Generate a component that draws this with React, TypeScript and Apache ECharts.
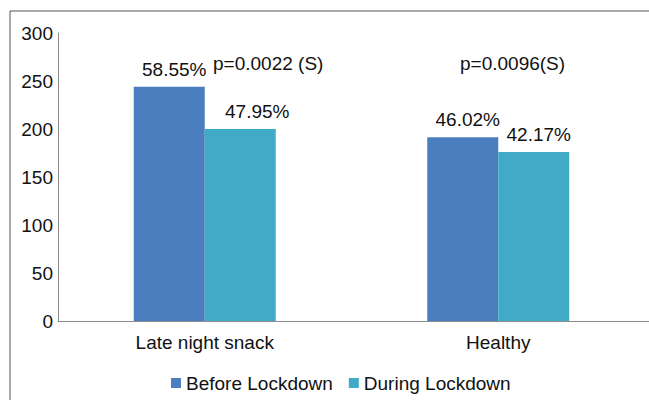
import React, { useEffect, useRef } from "react";
import * as echarts from "echarts";

const categories = ["Late night snack", "Healthy"];
const seriesNames = ["Before Lockdown", "During Lockdown"];
const beforeValues = [244, 191.5];
const duringValues = [200, 176];
const beforeLabels = ["58.55%", "46.02%"];
const duringLabels = ["47.95%", "42.17%"];
const pValueLabels = ["p=0.0022 (S)", "p=0.0096(S)"];
const yTicks = { min: 0, max: 300, interval: 50 };

const FONT = "'Liberation Sans', Arial, sans-serif";
const FS = 19;

export default function App() {
  const ref = useRef<HTMLDivElement>(null);
  useEffect(() => {
    if (!ref.current) return;
    const chart = echarts.init(ref.current, null, { renderer: "svg" });
    const beforeOffsets = [[5, 0], [5, 0]];
    const duringOffsets = [[17, 0], [5, 0]];
    const mk = (vals: number[], labels: string[], offs: number[][]) =>
      vals.map((v, i) => ({
        value: v,
        label: { formatter: labels[i], offset: offs[i] },
      }));
    chart.setOption({
      animation: false,
      textStyle: { fontFamily: FONT },
      grid: { left: 58, right: 4, top: 33, bottom: 79 },
      legend: {
        data: seriesNames,
        left: 171,
        top: 373,
        padding: 0,
        itemWidth: 10,
        itemHeight: 10,
        itemGap: 16,
        icon: "rect",
        textStyle: { fontSize: FS, color: "#111", fontFamily: FONT, lineHeight: 20 },
      },
      xAxis: {
        type: "category",
        data: categories,
        axisLine: { lineStyle: { color: "#8c8c8c" } },
        axisTick: { show: false },
        axisLabel: { color: "#111", fontSize: FS, margin: 12, fontFamily: FONT },
      },
      yAxis: {
        type: "value",
        min: yTicks.min,
        max: yTicks.max,
        interval: yTicks.interval,
        axisLine: { show: true, lineStyle: { color: "#8c8c8c" } },
        axisTick: { show: false },
        splitLine: { show: false },
        axisLabel: { color: "#111", fontSize: FS, margin: 5, fontFamily: FONT },
      },
      series: [
        {
          name: seriesNames[0],
          type: "bar",
          barWidth: 71,
          barGap: "0%",
          itemStyle: { color: "#4a7ebe" },
          label: { show: true, position: "top", distance: 8, color: "#111", fontSize: FS, fontFamily: FONT },
          data: mk(beforeValues, beforeLabels, beforeOffsets),
        },
        {
          name: seriesNames[1],
          type: "bar",
          barWidth: 71,
          barGap: "0%",
          itemStyle: { color: "#41abc7" },
          label: { show: true, position: "top", distance: 8, color: "#111", fontSize: FS, fontFamily: FONT },
          data: mk(duringValues, duringLabels, duringOffsets),
        },
      ],
      graphic: [
        {
          type: "rect",
          shape: { x: 10, y: 11, width: 700, height: 500 },
          style: { fill: "none", stroke: "#555", lineWidth: 1 },
          silent: true,
        },
        {
          type: "line",
          shape: { x1: 640, y1: 321.5, x2: 649, y2: 321.5 },
          style: { stroke: "#8c8c8c", lineWidth: 1 },
          silent: true,
        },
        {
          type: "text",
          x: 213,
          y: 63,
          style: { text: pValueLabels[0], fontSize: FS, fontFamily: FONT, fill: "#111", verticalAlign: "middle" },
        },
        {
          type: "text",
          x: 460,
          y: 63,
          style: { text: pValueLabels[1], fontSize: FS, fontFamily: FONT, fill: "#111", verticalAlign: "middle" },
        },
      ],
    });
    return () => chart.dispose();
  }, []);
  return (
    <div
      ref={ref}
      style={{ position: "fixed", left: 0, top: 0, width: 649, height: 400, background: "#fff" }}
    />
  );
}
